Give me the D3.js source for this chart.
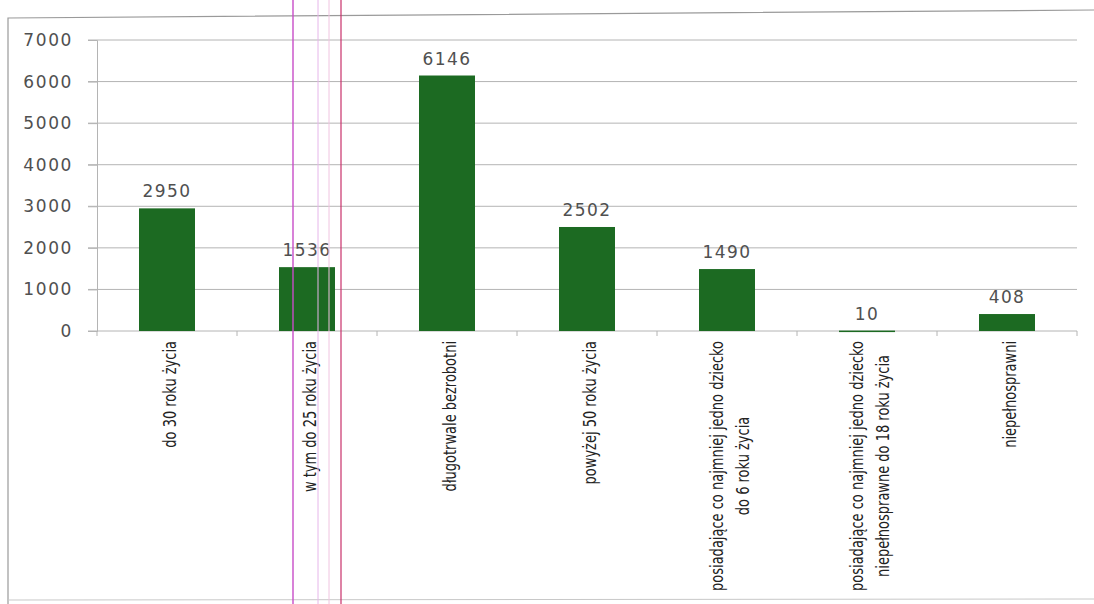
<!DOCTYPE html>
<html>
<head>
<meta charset="utf-8">
<script src="https://cdn.jsdelivr.net/npm/d3@7"></script>
<style>
  body { margin: 0; background: #fff; }
  svg { display: block; }
</style>
</head>
<body>
<svg width="1094" height="604"></svg>
<script>
// dane z wykresu
const categories = [
    ['do 30 roku życia'],
    ['w tym do 25 roku życia'],
    ['długotrwale bezrobotni'],
    ['powyżej 50 roku życia'],
    ['posiadające co najmniej jedno dziecko', 'do 6 roku życia'],
    ['posiadające co najmniej jedno dziecko', 'niepełnosprawne do 18 roku życia'],
    ['niepełnosprawni']
];
const values = [2950, 1536, 6146, 2502, 1490, 10, 408];
const yTicks = [0, 1000, 2000, 3000, 4000, 5000, 6000, 7000];

const svg = d3.select('svg');
const width = +svg.attr('width');
const height = +svg.attr('height');
const margin = { top: 40, right: 17, bottom: 273, left: 97 };

// ramka wykresu (skan - lekko przekrzywiona)
svg.append('path')
    .attr('d', `M${width},10 L8,18 L8,${height}`)
    .attr('fill', 'none')
    .attr('stroke', '#9a9a9a')
    .attr('stroke-width', 1.2);
svg.append('line')
    .attr('x1', 8).attr('x2', width)
    .attr('y1', 600).attr('y2', 599)
    .attr('stroke', '#c8c8c8');

const x = d3.scaleBand()
    .domain(d3.range(categories.length))
    .range([margin.left, width - margin.right])
    .paddingInner(0.6)
    .paddingOuter(0.3);

const y = d3.scaleLinear()
    .domain([0, 7000])
    .range([height - margin.bottom, margin.top]);

// linie siatki
svg.append('g')
    .attr('class', 'grid')
    .selectAll('line')
    .data(yTicks.slice(1))
    .enter()
    .append('line')
    .attr('x1', margin.left - 9)
    .attr('x2', width - margin.right)
    .attr('y1', d => y(d))
    .attr('y2', d => y(d))
    .attr('stroke', '#b4b4b4')
    .attr('stroke-width', 1);

// os Y
const yAxis = svg.append('g')
    .attr('transform', `translate(${margin.left},0)`)
    .call(d3.axisLeft(y).tickValues(yTicks).tickSize(9).tickPadding(15).tickFormat(d3.format('d')));
yAxis.select('.domain').attr('stroke', '#b4b4b4');
yAxis.selectAll('.tick line').attr('stroke', '#b4b4b4');
yAxis.selectAll('text')
    .attr('fill', '#505050')
    .style('font-family', 'DejaVu Sans, sans-serif')
    .style('font-size', '17px')
    .style('letter-spacing', '1.6px');

// os X - kreski na granicach kategorii
svg.append('line')
    .attr('x1', margin.left - 9)
    .attr('x2', width - margin.right)
    .attr('y1', y(0))
    .attr('y2', y(0))
    .attr('stroke', '#b4b4b4');
svg.append('g')
    .selectAll('line')
    .data(d3.range(categories.length + 1))
    .enter()
    .append('line')
    .attr('x1', i => margin.left + i * x.step())
    .attr('x2', i => margin.left + i * x.step())
    .attr('y1', y(0))
    .attr('y2', y(0) + 5)
    .attr('stroke', '#b4b4b4');

// slupki
svg.append('g')
    .selectAll('rect')
    .data(values)
    .enter()
    .append('rect')
    .attr('x', (d, i) => x(i))
    .attr('y', d => y(d))
    .attr('width', x.bandwidth())
    .attr('height', d => Math.max(1.5, y(0) - y(d)))
    .attr('fill', '#1c6a22');

// etykiety wartosci
svg.append('g')
    .selectAll('text')
    .data(values)
    .enter()
    .append('text')
    .attr('x', (d, i) => x(i) + x.bandwidth() / 2)
    .attr('y', d => y(d) - 11)
    .attr('text-anchor', 'middle')
    .attr('fill', '#505050')
    .style('font-family', 'DejaVu Sans, sans-serif')
    .style('font-size', '17px')
    .style('letter-spacing', '1.4px')
    .text(d => d);

// etykiety kategorii (obrocone)
const catLabel = svg.append('g')
    .selectAll('g')
    .data(categories)
    .enter()
    .append('g')
    .attr('transform', (d, i) => `translate(${x(i) + x.bandwidth() / 2 + 3},${y(0) + 10}) rotate(-90)`);

catLabel.each(function (lines) {
    const g = d3.select(this);
    const lh = 26;
    const n = lines.length;
    const t = g.append('text')
        .attr('fill', '#222')
        .style('font-family', '"Liberation Sans Narrow", "DejaVu Sans Condensed", sans-serif')
        .style('font-size', '17px');
    lines.forEach((line, k) => {
        t.append('tspan')
            .attr('x', 0)
            .attr('y', (k - (n - 1) / 2) * lh)
            .attr('dy', '0.35em')
            .text(line);
    });
    // zwezenie tekstu i wyrownanie do osi
    const squeeze = 0.85;
    const widths = t.selectAll('tspan').nodes().map(n => n.getComputedTextLength() * squeeze);
    const maxW = d3.max(widths);
    t.selectAll('tspan')
        .attr('textLength', (d, k) => widths[k])
        .attr('lengthAdjust', 'spacingAndGlyphs')
        .attr('x', (d, k) => -maxW + (maxW - widths[k]) / 2);
});

// artefakty skanu - pionowe linie
const scanLines = [
    { x: 293, color: '#c84cc8', w: 1.4 },
    { x: 318, color: '#e6b6ea', w: 1 },
    { x: 329, color: '#f0c4e0', w: 1 },
    { x: 341, color: '#c8306a', w: 1.2 }
];
svg.append('g')
    .selectAll('line')
    .data(scanLines)
    .enter()
    .append('line')
    .attr('x1', d => d.x)
    .attr('x2', d => d.x)
    .attr('y1', 0)
    .attr('y2', height)
    .attr('stroke', d => d.color)
    .attr('stroke-width', d => d.w);
</script>
</body>
</html>
